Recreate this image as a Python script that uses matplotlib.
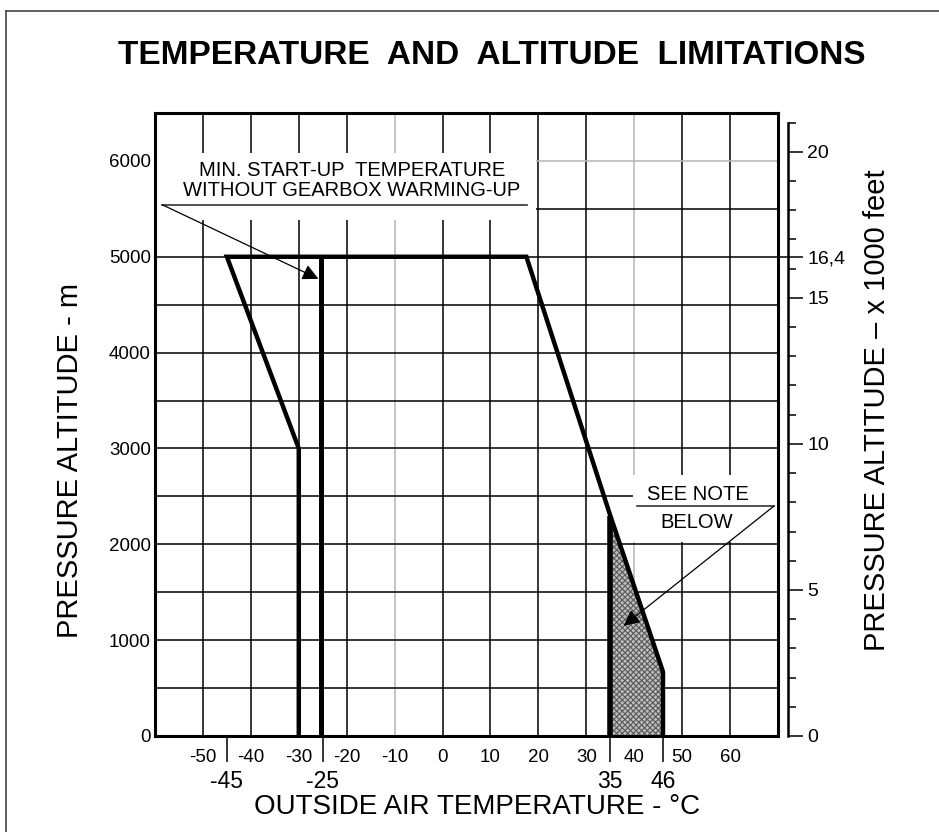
import matplotlib
matplotlib.use("Agg")
import matplotlib.pyplot as plt
from matplotlib.patches import Rectangle
from matplotlib.lines import Line2D
import numpy as np

plt.rcParams['font.family'] = ['Liberation Sans', 'DejaVu Sans']
plt.rcParams['axes.unicode_minus'] = False
plt.rcParams['hatch.linewidth'] = 0.8

# ---------------- data ----------------
title = "TEMPERATURE  AND  ALTITUDE  LIMITATIONS"
x_label = "OUTSIDE AIR TEMPERATURE - °C"
y_label = "PRESSURE ALTITUDE - m"
y2_label = "PRESSURE ALTITUDE – x 1000 feet"

temp_ticks = [-50, -40, -30, -20, -10, 0, 10, 20, 30, 40, 50, 60]
temp_tick_labels = ["-50", "-40", "-30", "-20", "-10", "0", "10", "20", "30", "40", "50", "60"]
alt_ticks_m = [0, 1000, 2000, 3000, 4000, 5000, 6000]
alt_minor_m = [500, 1500, 2500, 3500, 4500, 5500]
key_temps = [-45, -25, 35, 46]
key_temp_labels = ["-45", "-25", "35", "46"]
ft_ticks = [0, 5, 10, 15, 16.4, 20]
ft_tick_labels = ["0", "5", "10", "15", "16,4", "20"]
ft_minor = [1, 2, 3, 4, 6, 7, 8, 9, 11, 12, 13, 14, 16, 17, 18, 19, 21]
gray_temp_grid = [-10, 40]
gray_alt_grid = [6000]

# operating envelope (deg C, m)
envelope_temp = [-30, -30, -45, 17.5, 35, 46, 46]
envelope_alt = [0, 3000, 5000, 5000, 2300, 670, 0]
# minimum start-up temperature without gearbox warming-up
min_start_temp = [-25.4, -25.4]
min_start_alt = [0, 5000]
# "see note" region
note_temp = [35, 35, 46, 46]
note_alt = [0, 2300, 670, 0]
m_per_kft = 304.8

# ---------------- figure ----------------
fig = plt.figure(figsize=(9.39, 8.32), dpi=100)
ax = fig.add_axes([155/939, 1-736/832, 623/939, 623/832])
ax.set_xlim(-60, 70)
ax.set_ylim(0, 6500)

ax.set_xticks(temp_ticks)
ax.set_xticklabels(temp_tick_labels)
ax.set_yticks(alt_ticks_m)
ax.set_yticklabels([str(v) for v in alt_ticks_m])
ax.set_yticks(alt_minor_m, minor=True)
ax.tick_params(axis='x', which='both', length=0, pad=9, labelsize=13.5)
ax.tick_params(axis='y', which='both', length=0, pad=3, labelsize=13.5)
ax.grid(True, which='both', color='black', lw=1.1)
for loc, gl in zip(ax.get_xticks(), ax.get_xgridlines()):
    if loc in gray_temp_grid:
        gl.set_color('#b5b5b5')
for loc, gl in zip(ax.get_yticks(), ax.get_ygridlines()):
    if loc in gray_alt_grid:
        gl.set_color('#b5b5b5')
ax.set_axisbelow(True)
for s in ax.spines.values():
    s.set_linewidth(2.2)
    s.set_zorder(5)

# shaded note region
ax.fill(note_temp, note_alt, facecolor='#bdbdbd', edgecolor='#5a5a5a',
        hatch='xxxxxx', lw=0, zorder=2)
# envelope
ax.plot(envelope_temp, envelope_alt, color='black', lw=3.2, zorder=4,
        solid_joinstyle='miter', solid_capstyle='butt')
ax.plot(min_start_temp, min_start_alt, color='black', lw=3.6, zorder=4,
        solid_capstyle='butt')
ax.plot(note_temp[:2], note_alt[:2], color='black', lw=4.0, zorder=4,
        solid_capstyle='butt')
# 5000 m line reaching the feet axis
ax.axhline(envelope_alt[2], xmin=1.0, xmax=1.017, color='black', lw=1.1, clip_on=False)

# annotation 1
ax.add_patch(Rectangle((-60, 5380), 79.5, 700, facecolor='white', edgecolor='none', zorder=1.5))
ax.text(-18.9, 5898, "MIN. START-UP  TEMPERATURE", ha='center', va='center', fontsize=14.5, zorder=6)
ax.text(-18.9, 5694, "WITHOUT GEARBOX WARMING-UP", ha='center', va='center', fontsize=14.5, zorder=6)
ax.plot([-58.5, 17.6], [5543, 5543], color='#333333', lw=1.2, zorder=6)
ax.annotate("", xy=(-25.9, 4770), xytext=(-58.5, 5543),
            arrowprops=dict(arrowstyle='-|>', color='black', lw=0.9, mutation_scale=24,
                            shrinkA=0, shrinkB=0), zorder=6)

# annotation 2
ax.add_patch(Rectangle((39.8, 2025), 30.2, 700, facecolor='white', edgecolor='none', zorder=1.5))
ax.text(53.3, 2521, "SEE NOTE", ha='center', va='center', fontsize=14.5, zorder=6)
ax.text(53.0, 2229, "BELOW", ha='center', va='center', fontsize=14.5, zorder=6)
ax.plot([40.6, 69.2], [2401, 2401], color='#333333', lw=1.2, zorder=6)
ax.annotate("", xy=(37.8, 1150), xytext=(69.2, 2401),
            arrowprops=dict(arrowstyle='-|>', color='black', lw=0.9, mutation_scale=24,
                            shrinkA=0, shrinkB=0), zorder=6)

# key temperatures on a second bottom axis
axk = ax.twiny()
axk.set_xlim(ax.get_xlim())
axk.xaxis.set_ticks_position('bottom')
axk.set_xticks(key_temps)
axk.set_xticklabels(key_temp_labels)
axk.tick_params(axis='x', length=18.7, width=1.1, pad=6, labelsize=16.5, direction='out')
for s in axk.spines.values():
    s.set_visible(False)

# feet axis
axf = ax.twinx()
axf.set_ylim(0, 6500 / m_per_kft)
for k, s in axf.spines.items():
    s.set_visible(k == 'right')
axf.spines['right'].set_position(('outward', 7.2))
axf.spines['right'].set_bounds(0, 21)
axf.spines['right'].set_linewidth(1.8)
axf.set_yticks(ft_ticks)
axf.set_yticklabels(ft_tick_labels)
axf.set_yticks(ft_minor, minor=True)
axf.tick_params(axis='y', which='major', length=11, width=1.1, pad=3, labelsize=14)
axf.tick_params(axis='y', which='minor', length=6, width=1.1)

# labels
fig.text(0.5234, 1-55.5/832, title, ha='center', va='center', fontsize=24, fontweight='bold')
fig.text(477/939, 1-807/832, x_label, ha='center', va='center', fontsize=20)
fig.text(70/939, 1-460/832, y_label, ha='center', va='center', rotation=90, fontsize=21)
fig.text(877/939, 1-410/832, y2_label, ha='center', va='center', rotation=90, fontsize=21)

# frame
fig.add_artist(Line2D([6/939, 6/939], [0, 1-11/832], transform=fig.transFigure, color='#444444', lw=1.2))
fig.add_artist(Line2D([6/939, 1], [1-11/832, 1-11/832], transform=fig.transFigure, color='#444444', lw=1.2))

fig.savefig("out.png", dpi=100)
